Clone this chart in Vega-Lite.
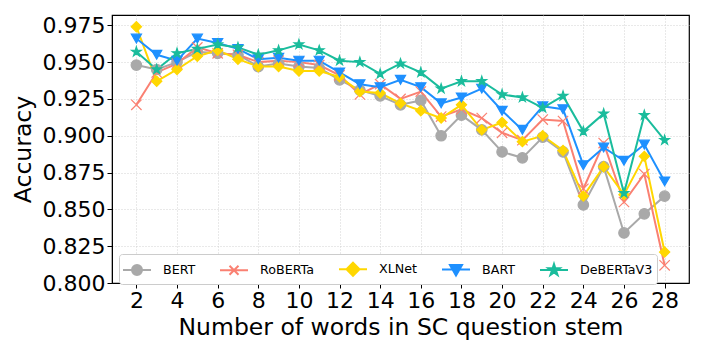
{
  "$schema": "https://vega.github.io/schema/vega-lite/v6.json",
  "width": 577,
  "height": 268,
  "autosize": "none",
  "padding": {"left": 112, "top": 15, "right": 17, "bottom": 70},
  "background": "white",
  "config": {
    "font": "DejaVu Sans",
    "view": {"stroke": "black", "strokeWidth": 1.2},
    "axis": {
      "labelFont": "DejaVu Sans", "titleFont": "DejaVu Sans",
      "labelFontSize": 22, "titleFontSize": 23.5, "titleFontWeight": "normal",
      "labelColor": "black", "titleColor": "black",
      "domainColor": "black", "tickColor": "black", "tickSize": 5,
      "gridColor": "#c8c8c8", "gridDash": [1, 2], "gridWidth": 0.8
    },
    "legend": {
      "title": null, "orient": "none", "legendX": 7, "legendY": 239, "direction": "horizontal", "columns": 5,
      "labelFont": "DejaVu Sans", "labelFontSize": 12.7, "labelColor": "black",
      "symbolSize": 400, "symbolOffset": 3, "labelOffset": 15, "columnPadding": 20, "padding": 4,
      "fillColor": "white", "strokeColor": "#cccccc", "cornerRadius": 3,
      "symbolStrokeWidth": 2, "symbolOpacity": 1
    }
  },
  "data": {"values": [
    {"n": 2, "BERT": 0.948, "RoBERTa": 0.921, "XLNet": 0.974, "BART": 0.966, "DeBERTaV3": 0.957},
    {"n": 3, "BERT": 0.945, "RoBERTa": 0.943, "XLNet": 0.937, "BART": 0.955, "DeBERTaV3": 0.945},
    {"n": 4, "BERT": 0.950, "RoBERTa": 0.949, "XLNet": 0.945, "BART": 0.951, "DeBERTaV3": 0.956},
    {"n": 5, "BERT": 0.957, "RoBERTa": 0.960, "XLNet": 0.954, "BART": 0.966, "DeBERTaV3": 0.959},
    {"n": 6, "BERT": 0.956, "RoBERTa": 0.956, "XLNet": 0.958, "BART": 0.963, "DeBERTaV3": 0.962},
    {"n": 7, "BERT": 0.955, "RoBERTa": 0.955, "XLNet": 0.952, "BART": 0.959, "DeBERTaV3": 0.960},
    {"n": 8, "BERT": 0.947, "RoBERTa": 0.950, "XLNet": 0.947, "BART": 0.952, "DeBERTaV3": 0.955},
    {"n": 9, "BERT": 0.949, "RoBERTa": 0.951, "XLNet": 0.947, "BART": 0.953, "DeBERTaV3": 0.958},
    {"n": 10, "BERT": 0.947, "RoBERTa": 0.950, "XLNet": 0.944, "BART": 0.951, "DeBERTaV3": 0.962},
    {"n": 11, "BERT": 0.946, "RoBERTa": 0.948, "XLNet": 0.944, "BART": 0.951, "DeBERTaV3": 0.958},
    {"n": 12, "BERT": 0.938, "RoBERTa": 0.941, "XLNet": 0.940, "BART": 0.943, "DeBERTaV3": 0.951},
    {"n": 13, "BERT": 0.931, "RoBERTa": 0.928, "XLNet": 0.930, "BART": 0.935, "DeBERTaV3": 0.950},
    {"n": 14, "BERT": 0.927, "RoBERTa": 0.935, "XLNet": 0.929, "BART": 0.933, "DeBERTaV3": 0.942},
    {"n": 15, "BERT": 0.921, "RoBERTa": 0.925, "XLNet": 0.922, "BART": 0.938, "DeBERTaV3": 0.949},
    {"n": 16, "BERT": 0.924, "RoBERTa": 0.930, "XLNet": 0.917, "BART": 0.933, "DeBERTaV3": 0.943},
    {"n": 17, "BERT": 0.900, "RoBERTa": 0.913, "XLNet": 0.912, "BART": 0.922, "DeBERTaV3": 0.932},
    {"n": 18, "BERT": 0.914, "RoBERTa": 0.918, "XLNet": 0.921, "BART": 0.926, "DeBERTaV3": 0.937},
    {"n": 19, "BERT": 0.904, "RoBERTa": 0.912, "XLNet": 0.904, "BART": 0.932, "DeBERTaV3": 0.937},
    {"n": 20, "BERT": 0.889, "RoBERTa": 0.902, "XLNet": 0.909, "BART": 0.917, "DeBERTaV3": 0.928},
    {"n": 21, "BERT": 0.885, "RoBERTa": 0.897, "XLNet": 0.896, "BART": 0.904, "DeBERTaV3": 0.926},
    {"n": 22, "BERT": 0.899, "RoBERTa": 0.911, "XLNet": 0.900, "BART": 0.920, "DeBERTaV3": 0.919},
    {"n": 23, "BERT": 0.889, "RoBERTa": 0.910, "XLNet": 0.890, "BART": 0.918, "DeBERTaV3": 0.927},
    {"n": 24, "BERT": 0.853, "RoBERTa": 0.864, "XLNet": 0.859, "BART": 0.880, "DeBERTaV3": 0.903},
    {"n": 25, "BERT": 0.879, "RoBERTa": 0.895, "XLNet": 0.879, "BART": 0.892, "DeBERTaV3": 0.915},
    {"n": 26, "BERT": 0.834, "RoBERTa": 0.855, "XLNet": 0.860, "BART": 0.883, "DeBERTaV3": 0.861},
    {"n": 27, "BERT": 0.847, "RoBERTa": 0.874, "XLNet": 0.886, "BART": 0.894, "DeBERTaV3": 0.914},
    {"n": 28, "BERT": 0.859, "RoBERTa": 0.812, "XLNet": 0.821, "BART": 0.869, "DeBERTaV3": 0.897}
  ]},
  "transform": [{"fold": ["BERT", "RoBERTa", "XLNet", "BART", "DeBERTaV3"], "as": ["model", "acc"]}],
  "encoding": {
    "x": {
      "field": "n", "type": "quantitative",
      "scale": {"domain": [0.8, 29.2], "nice": false, "zero": false},
      "axis": {"values": [2, 4, 6, 8, 10, 12, 14, 16, 18, 20, 22, 24, 26, 28], "title": "Number of words in SC question stem", "grid": true, "labelFlush": false, "titlePadding": 4}
    },
    "y": {
      "field": "acc", "type": "quantitative",
      "scale": {"domain": [0.8, 0.982], "nice": false, "zero": false},
      "axis": {"values": [0.8, 0.825, 0.85, 0.875, 0.9, 0.925, 0.95, 0.975], "format": ".3f", "title": "Accuracy", "grid": true, "titlePadding": 7, "labelFlush": false}
    }
  },
  "resolve": {"scale": {"shape": "independent", "size": "independent", "stroke": "independent", "fill": "independent"}},
  "layer": [
    {
      "mark": {"type": "line", "strokeWidth": 2},
      "encoding": {
        "color": {"field": "model", "type": "nominal", "legend": null,
          "scale": {"domain": ["BERT", "RoBERTa", "XLNet", "BART", "DeBERTaV3"], "range": ["#a9a9a9", "#fa8072", "#ffd700", "#1e90ff", "#1abc9c"]}}
      }
    },
    {
      "mark": {"type": "point", "filled": true, "opacity": 1, "strokeWidth": 1.2},
      "encoding": {
        "color": {"field": "model", "type": "nominal", "legend": null,
          "scale": {"domain": ["BERT", "RoBERTa", "XLNet", "BART", "DeBERTaV3"], "range": ["#a9a9a9", "#fa8072", "#ffd700", "#1e90ff", "#1abc9c"]}},
        "shape": {"field": "model", "type": "nominal", "legend": null,
          "scale": {"domain": ["BERT", "RoBERTa", "XLNet", "BART", "DeBERTaV3"], "range": ["circle", "M-1,-1L1,1M-1,1L1,-1", "diamond", "triangle-down", "M0,-1L0.2245,-0.309L0.951,-0.309L0.363,0.118L0.588,0.809L0,0.382L-0.588,0.809L-0.363,0.118L-0.951,-0.309L-0.2245,-0.309Z"]}},
        "size": {"field": "model", "type": "nominal", "legend": null,
          "scale": {"domain": ["BERT", "RoBERTa", "XLNet", "BART", "DeBERTaV3"], "range": [110, 100, 230, 160, 170]}},
        "stroke": {"field": "model", "type": "nominal", "legend": null,
          "scale": {"domain": ["BERT", "RoBERTa", "XLNet", "BART", "DeBERTaV3"], "range": ["#a9a9a9", "#fa8072", "#ffd700", "#1e90ff", "#1abc9c"]}}
      }
    },
    {
      "mark": {"type": "point", "filled": true, "opacity": 0, "size": 400, "strokeWidth": 2},
      "encoding": {
        "fill": {"field": "model", "type": "nominal",
          "scale": {"domain": ["BERT", "RoBERTa", "XLNet", "BART", "DeBERTaV3"], "range": ["#a9a9a9", "#fa8072", "#ffd700", "#1e90ff", "#1abc9c"]}},
        "stroke": {"field": "model", "type": "nominal",
          "scale": {"domain": ["BERT", "RoBERTa", "XLNet", "BART", "DeBERTaV3"], "range": ["#a9a9a9", "#fa8072", "#ffd700", "#1e90ff", "#1abc9c"]}},
        "shape": {"field": "model", "type": "nominal",
          "scale": {"domain": ["BERT", "RoBERTa", "XLNet", "BART", "DeBERTaV3"], "range": ["M-1.4,0H1.4M-0.5,0A0.5,0.5 0 1,0 0.5,0A0.5,0.5 0 1,0 -0.5,0Z", "M-1.4,0H1.4M-0.45,-0.45L0.45,0.45M-0.45,0.45L0.45,-0.45", "M-1.4,0H1.4M0,-0.65L0.65,0L0,0.65L-0.65,0Z", "M-1.4,0H1.4M-0.6,-0.45L0.6,-0.45L0,0.6Z", "M-1.4,0H1.4M0,-0.6L0.135,-0.185L0.571,-0.185L0.218,0.071L0.353,0.485L0,0.229L-0.353,0.485L-0.218,0.071L-0.571,-0.185L-0.135,-0.185Z"]}}
      }
    }
  ]
}
